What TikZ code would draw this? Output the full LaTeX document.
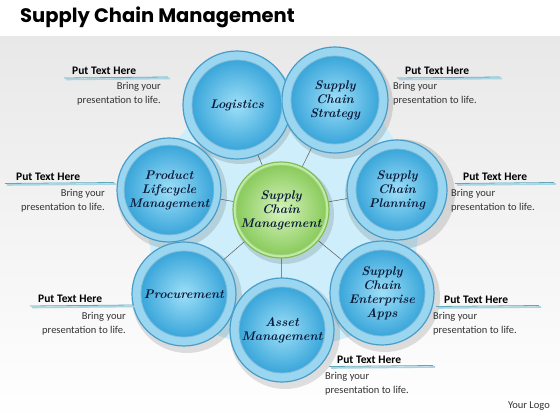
\documentclass[tikz,border=0pt]{standalone}
\usepackage{fontspec}
\setmainfont{Carlito}
\newfontfamily\titlefont{Poppins}
\newfontfamily\circlefont{Latin Modern Roman}
\usetikzlibrary{shadings}
\definecolor{ringout}{HTML}{4A9CC8}
\definecolor{ringfill}{HTML}{9AD6F0}
\definecolor{innerA}{HTML}{9EDFF8}
\definecolor{innerB}{HTML}{3AA6DA}
\definecolor{greenout}{HTML}{7DBE55}
\definecolor{greenfill}{HTML}{C4EBA6}
\definecolor{greenA}{HTML}{D6F3BE}
\definecolor{greenB}{HTML}{8ACB5C}
\definecolor{labelink}{HTML}{0C1B3A}
\definecolor{hexbg}{HTML}{CDEEFA}
\definecolor{lineteal}{HTML}{5FA9B8}
\definecolor{linelight}{HTML}{A8D4E4}
\definecolor{bodytext}{HTML}{333333}
\tikzset{
  outerring/.style={circle, minimum size=#1, inner sep=0pt, draw=ringout, line width=1.2pt, fill=ringfill},
  innerdisc/.style={circle, minimum size=#1, inner sep=0pt, draw=ringout!70, line width=0.8pt,
     inner color=innerA, outer color=innerB, text=labelink, align=center,
     font=\circlefont\fontsize{12.5}{14}\selectfont\bfseries\itshape},
  shadowdisc/.style={circle, minimum size=#1, inner sep=0pt, fill=black, opacity=0.12},
  spoke/.style={draw=gray!70!black, line width=0.5pt},
  headtxt/.style={font=\fontsize{11.5}{12}\selectfont\bfseries, text=black, inner sep=0pt},
  bodyL/.style={font=\fontsize{10.5}{14}\selectfont, text=bodytext, align=left, inner sep=0pt},
  bodyR/.style={font=\fontsize{10.5}{14}\selectfont, text=bodytext, align=right, inner sep=0pt},
}
\begin{document}
\begin{tikzpicture}[x=1pt,y=-1pt]
\useasboundingbox (0,0) rectangle (560,420);
% background
\shade[top color=gray!18, bottom color=white] (0,36) rectangle (560,420);
\fill[white] (0,0) rectangle (560,36);
\node[anchor=west, font=\titlefont\fontsize{19.5}{22}\selectfont\bfseries, inner sep=0pt] (title) at (20,17) {Supply Chain Management};
% background polygon
\fill[hexbg] (226,79) -- (348,72) -- (425,185) -- (407,318) -- (283,358) -- (160,315) -- (141,185) -- cycle;
% center coordinates
\coordinate (c) at (281,210);
\coordinate (p1) at (237,105);
\coordinate (p2) at (335,100);
\coordinate (p3) at (397,190);
\coordinate (p4) at (382,293);
\coordinate (p5) at (282,330);
\coordinate (p6) at (184,294);
\coordinate (p7) at (169,190);
% spokes
\foreach \p in {p1,p2,p3,p4,p5,p6,p7} \draw[spoke] (c) -- (\p);
% shadows
\foreach \p in {p1,p2,p3,p4,p5,p6,p7} \node[shadowdisc=110pt] at ([shift={(3,4)}]\p) {};
\node[shadowdisc=100pt] (cs) at ([shift={(3,4)}]c) {};
% outer circles
\node[outerring=108pt] (o1) at (p1) {};
\node[outerring=106pt] (o2) at (p2) {};
\node[outerring=100pt] (o3) at (p3) {};
\node[outerring=104pt] (o4) at (p4) {};
\node[outerring=104pt] (o5) at (p5) {};
\node[outerring=104pt] (o6) at (p6) {};
\node[outerring=104pt] (o7) at (p7) {};
\node[innerdisc=90pt] (logistics) at (p1) {Logistics};
\node[innerdisc=88pt] (strategy) at (p2) {Supply\\Chain\\Strategy};
\node[innerdisc=82pt] (planning) at (p3) {Supply\\Chain\\Planning};
\node[innerdisc=86pt] (apps) at (p4) {Supply\\Chain\\Enterprise\\Apps};
\node[innerdisc=86pt] (asset) at (p5) {Asset\\Management};
\node[innerdisc=86pt] (procure) at (p6) {Procurement};
\node[innerdisc=86pt] (plm) at (p7) {Product\\Lifecycle\\Management};
% center
\node[circle, minimum size=96pt, inner sep=0pt, draw=greenout, line width=1.2pt, fill=greenfill] (co) at (c) {};
\node[circle, minimum size=80pt, inner sep=0pt, draw=greenout!70, line width=0.8pt, inner color=greenA, outer color=greenB, text=labelink, align=center, font=\circlefont\fontsize{12.5}{14}\selectfont\bfseries\itshape] (center) at (c) {Supply\\Chain\\Management};
% text blocks: left side
% block 1
\node[headtxt, anchor=west] (h1) at (72,71) {Put Text Here};
\draw[linelight, line width=1.6pt] (66,79.5) -- (170,78.5);
\draw[lineteal, line width=0.8pt] (64,78) -- (168,77);
\node[bodyR, anchor=north east] (b1) at (161,82) {Bring your\\presentation to life.};
% block 2
\node[headtxt, anchor=west] (h2) at (16,177) {Put Text Here};
\draw[linelight, line width=1.6pt] (7,185) -- (116,184);
\draw[lineteal, line width=0.8pt] (5,183.5) -- (114,182.5);
\node[bodyR, anchor=north east] (b2) at (105,189) {Bring your\\presentation to life.};
% block 3
\node[headtxt, anchor=west] (h3) at (38,299) {Put Text Here};
\draw[linelight, line width=1.6pt] (32,307.5) -- (136,306.5);
\draw[lineteal, line width=0.8pt] (30,306) -- (134,305);
\node[bodyR, anchor=north east] (b3) at (126,312) {Bring your\\presentation to life.};
% right side
% block 4
\node[headtxt, anchor=west] (h4) at (405,71) {Put Text Here};
\draw[linelight, line width=1.6pt] (399,79.5) -- (502,78.5);
\draw[lineteal, line width=0.8pt] (397,78) -- (500,77);
\node[bodyL, anchor=north west] (b4) at (393,82) {Bring your\\presentation to life.};
% block 5
\node[headtxt, anchor=west] (h5) at (463,177) {Put Text Here};
\draw[linelight, line width=1.6pt] (457,185) -- (556,184);
\draw[lineteal, line width=0.8pt] (455,183.5) -- (554,182.5);
\node[bodyL, anchor=north west] (b5) at (451,189) {Bring your\\presentation to life.};
% block 6
\node[headtxt, anchor=west] (h6) at (444,300) {Put Text Here};
\draw[linelight, line width=1.6pt] (438,308) -- (541,307);
\draw[lineteal, line width=0.8pt] (436,306.5) -- (539,305.5);
\node[bodyL, anchor=north west] (b6) at (433,312) {Bring your\\presentation to life.};
% block 7
\node[headtxt, anchor=west] (h7) at (337,360) {Put Text Here};
\draw[linelight, line width=1.6pt] (331,368) -- (435,367);
\draw[lineteal, line width=0.8pt] (329,366.5) -- (433,365.5);
\node[bodyL, anchor=north west] (b7) at (325,372) {Bring your\\presentation to life.};
% logo
\node[font=\fontsize{10.5}{12}\selectfont, text=bodytext, anchor=east, inner sep=0pt] (logo) at (550,406) {Your Logo};
\end{tikzpicture}
\end{document}
